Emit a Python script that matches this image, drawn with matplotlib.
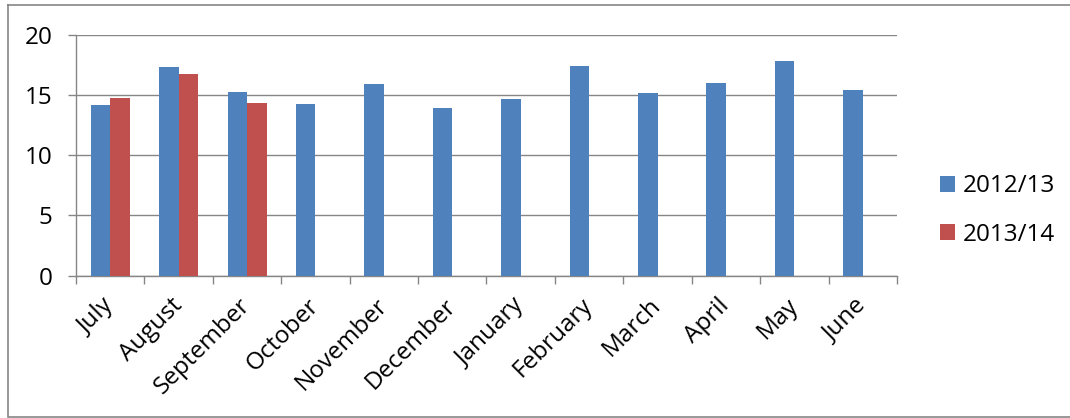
import matplotlib
matplotlib.use("Agg")
import matplotlib.pyplot as plt
import numpy as np
from matplotlib.lines import Line2D

months = ["July", "August", "September", "October", "November", "December",
          "January", "February", "March", "April", "May", "June"]
series_names = ["2012/13", "2013/14"]
values_2012_13 = [14.17, 17.32, 15.24, 14.25, 15.9, 13.89, 14.64, 17.38, 15.14, 15.97, 17.82, 15.41]
values_2013_14 = [14.72, 16.71, 14.3]
y_ticks = [0, 5, 10, 15, 20]

BLUE = "#4F81BD"
RED = "#C0504D"
GRID = "#868686"

plt.rcParams["font.family"] = ["Open Sans", "DejaVu Sans"]
FS = 17.5

W, H = 1070, 418
fig = plt.figure(figsize=(W / 100, H / 100), dpi=100)
fig.patch.set_facecolor("white")

# outer chart-area border (right edge runs past the canvas)
fig.add_artist(Line2D([7.5 / W, 7.5 / W, 1.01, 1.01, 7.5 / W],
                      [1 - 5 / H, 1 - 417 / H, 1 - 417 / H, 1 - 5 / H, 1 - 5 / H],
                      transform=fig.transFigure, color=GRID, lw=1.2,
                      solid_joinstyle="miter", clip_on=False))

left, right, top, bottom = 76, 897, 34.7, 275.7
ax = fig.add_axes([left / W, 1 - bottom / H, (right - left) / W, (bottom - top) / H])

x = np.arange(len(months))
bw = 0.285
ax.bar(x - bw / 2, values_2012_13, width=bw, color=BLUE, label=series_names[0], zorder=3)
ax.bar(x[:len(values_2013_14)] + bw / 2, values_2013_14, width=bw, color=RED,
       label=series_names[1], zorder=3)

ax.set_xlim(-0.5, len(months) - 0.5)
ax.set_ylim(0, 20)
ax.set_yticks(y_ticks)
ax.set_yticklabels([str(v) for v in y_ticks], fontsize=FS)
ax.yaxis.grid(True, color=GRID, lw=1.0, zorder=0)
ax.set_axisbelow(True)

ax.set_xticks(x)
ax.set_xticklabels(months, fontsize=FS, rotation=45, ha="right", va="center",
                   rotation_mode="anchor")
ax.set_xticks(np.arange(-0.5, len(months)), minor=True)
ax.tick_params(axis="x", which="major", length=0, pad=19)
ax.tick_params(axis="x", which="minor", length=6, width=1.0, color=GRID, direction="out")
ax.tick_params(axis="y", length=6, width=1.0, color=GRID, direction="out", pad=11)

for s in ["top", "right"]:
    ax.spines[s].set_visible(False)
for s in ["left", "bottom"]:
    ax.spines[s].set_color(GRID)
    ax.spines[s].set_linewidth(1.0)

handles, labels = ax.get_legend_handles_labels()
fig.legend(handles, labels, loc="center left", bbox_to_anchor=(940 / W, 1 - 210.5 / H),
           frameon=False, fontsize=FS, borderpad=0, borderaxespad=0,
           handlelength=0.62, handleheight=0.62, handletextpad=0.3, labelspacing=1.0)

fig.savefig("out.png", dpi=100, facecolor="white")
